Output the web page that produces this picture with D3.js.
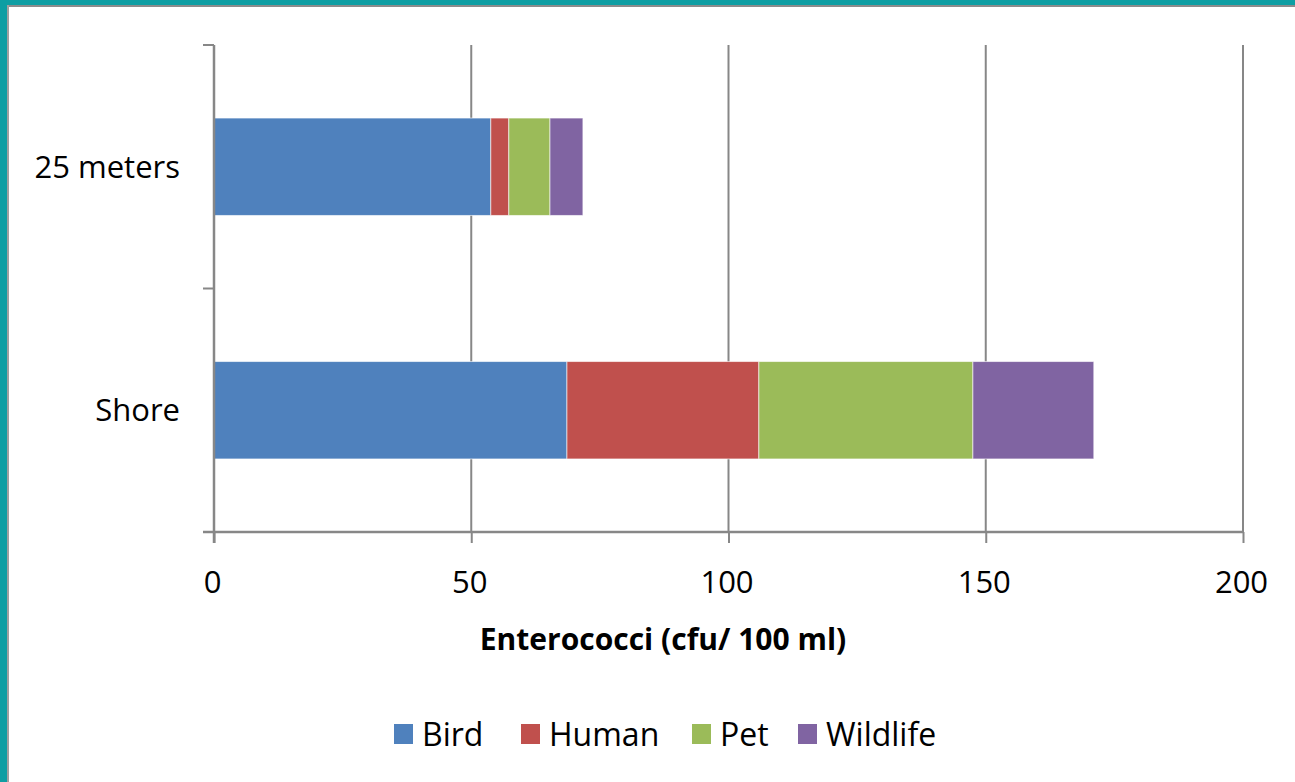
<!DOCTYPE html>
<html>
<head>
<meta charset="utf-8">
<script src="https://cdn.jsdelivr.net/npm/d3@7"></script>
<style>
  body { margin: 0; background: #fff; }
  svg { display: block; }
  text { font-family: "Open Sans", "Liberation Sans", sans-serif; fill: #000; }
</style>
</head>
<body>
<script>
// Données
const categories = ['25 meters', 'Shore']
const series = ['Bird', 'Human', 'Pet', 'Wildlife']
const values = {
    'Bird':     [53.8, 68.6],
    'Human':    [3.5, 37.3],
    'Pet':      [8.0, 41.6],
    'Wildlife': [6.4, 23.5]
}
const colors = ['#4f81bd', '#c0504d', '#9bbb59', '#8064a2']
const xTicks = [0, 50, 100, 150, 200]

const width = 1295, height = 782
const margin = { top: 45, left: 214, right: 52, bottom: 250 }
const plotW = width - margin.left - margin.right
const plotH = height - margin.top - margin.bottom

const svg = d3.select('body').append('svg')
    .attr('width', width)
    .attr('height', height)

// bordure turquoise en haut et à gauche
svg.append('rect').attr('x', 0).attr('y', 0).attr('width', width).attr('height', 5).attr('fill', '#0e9ea3')
svg.append('rect').attr('x', 0).attr('y', 0).attr('width', 7).attr('height', height).attr('fill', '#0e9ea3')
svg.append('rect').attr('x', 7).attr('y', 5).attr('width', width - 7).attr('height', 2).attr('fill', '#8c8c8c')
svg.append('rect').attr('x', 7).attr('y', 5).attr('width', 2).attr('height', height - 5).attr('fill', '#a0a0a0')

const g = svg.append('g').attr('transform', `translate(${margin.left}, ${margin.top})`)

const x = d3.scaleLinear().domain([0, 200]).range([0, plotW])
// Excel : première catégorie en haut
const y = d3.scaleBand().domain(categories).range([0, plotH]).paddingInner(0.6).paddingOuter(0.3)

// Grille verticale
g.append('g')
    .selectAll('line')
    .data(xTicks.slice(1))
    .join('line')
    .attr('x1', d => x(d)).attr('x2', d => x(d))
    .attr('y1', 0).attr('y2', plotH)
    .attr('stroke', '#878787')
    .attr('stroke-width', 2)

// Empilement
const table = categories.map((c, i) => {
    const row = { cat: c }
    series.forEach(s => row[s] = values[s][i])
    return row
})
const stacked = d3.stack().keys(series)(table)

g.append('g')
    .selectAll('g')
    .data(stacked)
    .join('g')
    .attr('fill', (d, i) => colors[i])
    .selectAll('rect')
    .data(d => d)
    .join('rect')
    .attr('x', d => x(d[0]))
    .attr('y', d => y(d.data.cat))
    .attr('width', d => x(d[1]) - x(d[0]))
    .attr('height', y.bandwidth())
    .attr('stroke', 'rgba(255,255,255,0.6)')
    .attr('stroke-width', 1)

// Axe X
const xAxis = g.append('g')
    .attr('transform', `translate(0, ${plotH})`)
    .call(d3.axisBottom(x).tickValues(xTicks).tickSize(11).tickPadding(28))
xAxis.select('.domain').attr('stroke', '#878787').attr('stroke-width', 2.5).attr('d', `M-11,0H${plotW}`)
xAxis.selectAll('.tick line').attr('stroke', '#878787').attr('stroke-width', 2)
xAxis.selectAll('text').style('font-size', '31px').attr('dx', '-2')

// Axe Y avec les graduations entre catégories
g.append('line')
    .attr('x1', 0).attr('x2', 0).attr('y1', 0).attr('y2', plotH + 11)
    .attr('stroke', '#878787').attr('stroke-width', 2.5)
g.append('g')
    .selectAll('line')
    .data([0, 0.5, 1])
    .join('line')
    .attr('x1', -11).attr('x2', 0)
    .attr('y1', d => d * plotH).attr('y2', d => d * plotH)
    .attr('stroke', '#878787').attr('stroke-width', 2)

g.append('g')
    .selectAll('text')
    .data(categories)
    .join('text')
    .attr('x', -34)
    .attr('y', d => y(d) + y.bandwidth() / 2)
    .attr('dy', '0.36em')
    .attr('text-anchor', 'end')
    .style('font-size', '31px')
    .text(d => d)

// Titre de l'axe
svg.append('text')
    .attr('x', 663)
    .attr('y', 650)
    .attr('text-anchor', 'middle')
    .style('font-size', '30px')
    .style('font-weight', 'bold')
    .text('Enterococci (cfu/ 100 ml)')

// Légende
const legendX = [394, 521, 692, 798]
const legend = svg.append('g')
    .selectAll('g')
    .data(series)
    .join('g')
    .attr('transform', (d, i) => `translate(${legendX[i]}, 724)`)
legend.append('rect')
    .attr('width', 19).attr('height', 20)
    .attr('fill', (d, i) => colors[i])
legend.append('text')
    .attr('x', 28)
    .attr('y', 10)
    .attr('dy', '0.36em')
    .style('font-size', '32px')
    .text(d => d)
</script>
</body>
</html>
